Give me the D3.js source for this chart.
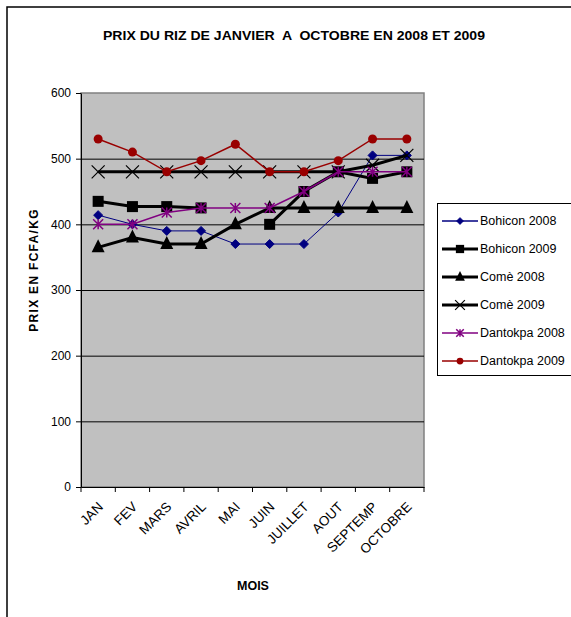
<!DOCTYPE html>
<html><head><meta charset="utf-8">
<script src="https://cdn.jsdelivr.net/npm/d3@7"></script>
<style>body{margin:0;background:#fff}svg{display:block}text{font-family:"Liberation Sans",Arial,sans-serif}</style>
</head><body>
<script>
const months = ["JAN","FEV","MARS","AVRIL","MAI","JUIN","JUILLET","AOUT","SEPTEMP","OCTOBRE"];
const yTicks = [0,100,200,300,400,500,600];
const bohicon2008 = [414,400,390,390,370,370,370,418,505,505];
const bohicon2009 = [435,427,427,425,null,400,450,480,470,480];
const come2008 = [365,380,370,370,400,425,425,425,425,425];
const come2009 = [480,480,480,480,480,480,480,480,490,505];
const dantokpa2008 = [400,400,418,425,425,425,450,480,480,480];
const dantokpa2009 = [530,510,480,497,522,480,480,497,530,530];
const seriesNames = ["Bohicon 2008","Bohicon 2009","Comè 2008","Comè 2009","Dantokpa 2008","Dantokpa 2009"];

const series = [
  {name:seriesNames[0], values:bohicon2008, color:"#000080", width:1, marker:"diamond"},
  {name:seriesNames[1], values:bohicon2009, color:"#000000", width:3, marker:"square"},
  {name:seriesNames[2], values:come2008, color:"#000000", width:3, marker:"triangle"},
  {name:seriesNames[3], values:come2009, color:"#000000", width:3, marker:"x"},
  {name:seriesNames[4], values:dantokpa2008, color:"#800080", width:1.5, marker:"star"},
  {name:seriesNames[5], values:dantokpa2009, color:"#990000", width:1.5, marker:"circle"}
];

const W=571,H=617;
const svg=d3.select("body").append("svg").attr("width",W).attr("height",H);
svg.append("path").attr("d","M7,617 V7 H571").attr("fill","none").attr("stroke","#000").attr("stroke-width",1.5);

const L=81,R=424,T=93,B=487;
const x=d3.scaleBand().domain(months).range([L,R]);
const y=d3.scaleLinear().domain([0,600]).range([B,T]);

svg.append("rect").attr("x",L).attr("y",T).attr("width",R-L).attr("height",B-T).attr("fill","#c0c0c0").attr("stroke","#808080").attr("stroke-width",1.5);
svg.append("g").selectAll("line").data(yTicks.filter(d=>d>0&&d<600)).join("line")
  .attr("x1",L).attr("x2",R).attr("y1",d=>y(d)+0.5).attr("y2",d=>y(d)+0.5).attr("stroke","#000").attr("stroke-width",1);

const yAxis=svg.append("g").attr("transform",`translate(${L},0)`)
  .call(d3.axisLeft(y).tickValues(yTicks).tickSize(5).tickSizeOuter(0));
yAxis.select(".domain").attr("stroke","#000");
yAxis.selectAll("text").attr("font-size",12).attr("fill","#000").attr("dx","-2");
const xAxis=svg.append("g").attr("transform",`translate(0,${B})`)
  .call(d3.axisBottom(x).tickSize(0).tickFormat(""));
xAxis.select(".domain").attr("stroke","#000");
svg.append("g").selectAll("line").data(d3.range(months.length+1)).join("line")
  .attr("x1",i=>L+i*x.step()).attr("x2",i=>L+i*x.step()).attr("y1",B).attr("y2",B+5).attr("stroke","#000");
svg.append("g").selectAll("text").data(months).join("text")
  .attr("transform",d=>`translate(${x(d)+x.bandwidth()/2-1},${B+14}) rotate(-45)`)
  .attr("text-anchor","end").attr("dy","0.7em").attr("font-size",13.5).text(d=>d);

svg.append("text").attr("x",294).attr("y",40).attr("text-anchor","middle").attr("font-size",12.5).attr("font-weight","bold")
  .attr("textLength",382).attr("lengthAdjust","spacingAndGlyphs").attr("xml:space","preserve")
  .text("PRIX DU RIZ DE JANVIER  A  OCTOBRE EN 2008 ET 2009");
svg.append("text").attr("transform","translate(38,270) rotate(-90)").attr("text-anchor","middle").attr("font-size",12).attr("font-weight","bold")
  .attr("letter-spacing","1.3").text("PRIX EN FCFA/KG");
svg.append("text").attr("x",253).attr("y",590).attr("text-anchor","middle").attr("font-size",12.5).attr("font-weight","bold").text("MOIS");

function drawMarker(g,type,cx,cy,color,scale=1){
  const s=scale;
  if(type==="diamond"){
    g.append("path").attr("d",`M${cx},${cy-4.5*s} L${cx+4.5*s},${cy} L${cx},${cy+4.5*s} L${cx-4.5*s},${cy} Z`).attr("fill",color).attr("stroke",color);
  } else if(type==="square"){
    g.append("rect").attr("x",cx-5.5*s).attr("y",cy-5.5*s).attr("width",11*s).attr("height",11*s).attr("fill","#000");
  } else if(type==="triangle"){
    g.append("path").attr("d",`M${cx},${cy-8*s} L${cx+6.5*s},${cy+5*s} L${cx-6.5*s},${cy+5*s} Z`).attr("fill","#000");
  } else if(type==="x"){
    const r=6.5*s;
    g.append("path").attr("d",`M${cx-r},${cy-r} L${cx+r},${cy+r} M${cx-r},${cy+r} L${cx+r},${cy-r}`).attr("stroke","#000").attr("stroke-width",1.2);
  } else if(type==="star"){
    const r=5*s;
    g.append("path").attr("d",`M${cx-r},${cy-r} L${cx+r},${cy+r} M${cx-r},${cy+r} L${cx+r},${cy-r} M${cx},${cy-r} L${cx},${cy+r}`).attr("stroke",color).attr("stroke-width",1.5);
  } else if(type==="circle"){
    g.append("circle").attr("cx",cx).attr("cy",cy).attr("r",4.5*s).attr("fill",color);
  }
}

const line=d3.line().defined(d=>d.v!=null).x(d=>x(d.m)+x.bandwidth()/2).y(d=>y(d.v));
series.forEach(s=>{
  const g=svg.append("g");
  const pts=s.values.map((v,i)=>({m:months[i],v}));
  g.append("path").datum(pts).attr("d",line).attr("fill","none").attr("stroke",s.color).attr("stroke-width",s.width);
  pts.filter(p=>p.v!=null).forEach(p=>drawMarker(g,s.marker,x(p.m)+x.bandwidth()/2,y(p.v),s.color));
});

const lg=svg.append("g");
lg.append("rect").attr("x",437.5).attr("y",203.5).attr("width",140).attr("height",172).attr("fill","#fff").attr("stroke","#000");
series.forEach((s,i)=>{
  const ly=221+i*28;
  lg.append("line").attr("x1",442).attr("x2",478).attr("y1",ly).attr("y2",ly).attr("stroke",s.color).attr("stroke-width",s.width===1?1.5:s.width);
  drawMarker(lg,s.marker,460,ly,s.color,0.75);
  lg.append("text").attr("x",480).attr("y",ly+4).attr("font-size",12.5).text(s.name);
});
</script>
</body></html>
